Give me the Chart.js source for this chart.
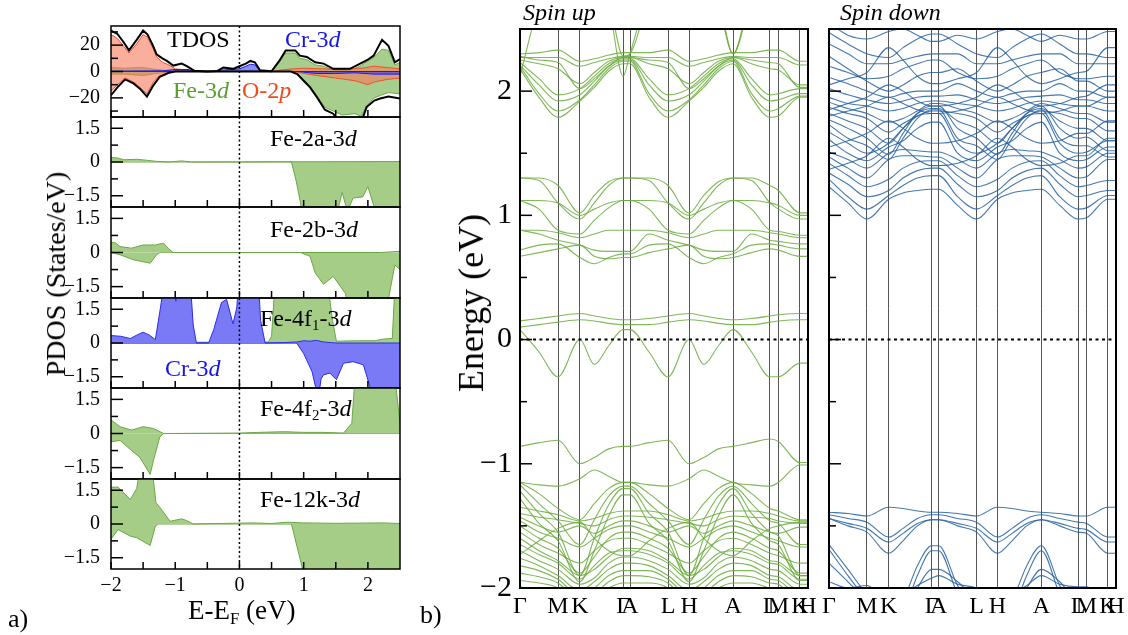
<!DOCTYPE html>
<html>
<head>
<meta charset="UTF-8">
<title>PDOS and band structure</title>
<script src="https://cdn.jsdelivr.net/npm/chart.js"></script>
<style>
  body { margin: 0; width: 1128px; height: 635px; overflow: hidden; background: #fff; font-family: 'Liberation Serif', serif; }
  canvas { position: absolute; }
  .t { position: absolute; white-space: nowrap; line-height: 1; color: #000; }
  .rot { transform: translate(-50%, -50%) rotate(-90deg); }
  sub { font-size: 0.62em; vertical-align: -0.3em; line-height: 0; }
  .g { color: #5aa02c; } .b { color: #1515e8; } .o { color: #f04a1a; }
</style>
</head>
<body>

<canvas id="p0" width="361" height="99" style="left:47px;top:22px"></canvas>
<canvas id="p1" width="361" height="98" style="left:47px;top:113px"></canvas>
<canvas id="p2" width="361" height="99" style="left:47px;top:203px"></canvas>
<canvas id="p3" width="361" height="98" style="left:47px;top:294px"></canvas>
<canvas id="p4" width="361" height="99" style="left:47px;top:384px"></canvas>
<canvas id="p5" width="361" height="122" style="left:47px;top:475px"></canvas>
<canvas id="bup" width="356" height="602" style="left:460px;top:20px"></canvas>
<canvas id="bdn" width="311" height="602" style="left:817px;top:20px"></canvas>

<div class="t" style="left:167px;top:27px;font-size:24px">TDOS</div>
<div class="t b" style="left:285px;top:27px;font-size:24px">Cr-3<i>d</i></div>
<div class="t g" style="left:173px;top:78px;font-size:24px">Fe-3<i>d</i></div>
<div class="t o" style="left:242px;top:78px;font-size:24px">O-2<i>p</i></div>
<div class="t" style="left:270px;top:126px;font-size:24px">Fe-2a-3<i>d</i></div>
<div class="t" style="left:270px;top:217px;font-size:24px">Fe-2b-3<i>d</i></div>
<div class="t" style="left:260px;top:306px;font-size:24px">Fe-4f<sub>1</sub>-3<i>d</i></div>
<div class="t b" style="left:165px;top:356px;font-size:24px">Cr-3<i>d</i></div>
<div class="t" style="left:260px;top:396px;font-size:24px">Fe-4f<sub>2</sub>-3<i>d</i></div>
<div class="t" style="left:260px;top:487px;font-size:24px">Fe-12k-3<i>d</i></div>
<div class="t rot" style="left:56px;top:274px;font-size:28px">PDOS (States/eV)</div>
<div class="t" style="left:188px;top:597px;font-size:27px">E-E<sub>F</sub> (eV)</div>
<div class="t" style="left:8px;top:606px;font-size:26px">a)</div>
<div class="t" style="left:420px;top:602px;font-size:26px">b)</div>
<div class="t rot" style="left:471px;top:303px;font-size:36px">Energy (eV)</div>
<div class="t" style="left:523px;top:0px;font-size:24px;font-style:italic">Spin up</div>
<div class="t" style="left:840px;top:0px;font-size:24px;font-style:italic">Spin down</div>

<script>
// ---------- PDOS data: [E - EF (eV), states/eV] ----------
const tdosUp = [[-2.0,31],[-1.9,28.5],[-1.8,22],[-1.72,16],[-1.6,24],[-1.5,31],[-1.43,28],[-1.35,20],[-1.29,13],[-1.2,10],[-1.13,8],[-1.03,4.5],[-0.9,6],[-0.82,4],[-0.7,0.5],[-0.5,0],[-0.35,0.3],[-0.25,3],[-0.1,2],[0.0,4],[0.1,6],[0.17,8],[0.24,7],[0.32,1],[0.5,0.2],[0.62,8],[0.72,16],[0.87,16],[0.94,12],[1.05,11],[1.18,7],[1.31,6],[1.46,2],[1.72,2],[1.88,6],[2.0,9],[2.09,12],[2.22,24],[2.32,19.5],[2.42,7],[2.5,9.5]];
const tdosDn = [[-2.0,-18],[-1.9,-12],[-1.78,-6],[-1.65,-9],[-1.55,-13],[-1.44,-19],[-1.34,-10.5],[-1.24,-4],[-1.1,-1],[-1.0,0],[0.8,0],[0.9,-2],[1.0,-7],[1.1,-12],[1.2,-19],[1.33,-29],[1.46,-32],[1.55,-38],[1.9,-38],[1.98,-27],[2.1,-22],[2.19,-20.5],[2.32,-19],[2.5,-20.5]];
const o2pUp = [[-2.0,28],[-1.9,25],[-1.8,19],[-1.72,14],[-1.6,21],[-1.5,28],[-1.43,26],[-1.35,18],[-1.29,11],[-1.2,7],[-1.1,5],[-1.0,2],[-0.9,1.5],[-0.7,0.5],[-0.5,0],[0.5,0],[0.7,1.5],[1.0,2.5],[1.3,2],[1.6,1.5],[1.9,2.5],[2.1,4],[2.3,3],[2.5,2]];
const o2pDn = [[-2.0,-15],[-1.9,-10],[-1.78,-5],[-1.65,-8],[-1.55,-12],[-1.44,-17],[-1.34,-8],[-1.24,-3],[-1.1,-1],[-1.0,0],[0.85,0],[1.0,-1.5],[1.2,-3],[1.5,-5],[1.8,-7],[2.0,-10],[2.1,-8],[2.3,-6],[2.5,-5]];
const fe3dUp = [[-2.0,3],[-1.8,2.5],[-1.5,3],[-1.3,1.5],[-1.1,0.5],[-0.8,0.3],[-0.5,0],[0.0,0.5],[0.2,0.5],[0.35,0],[0.5,0],[0.62,7],[0.72,14],[0.87,14],[0.94,10],[1.05,9],[1.18,5],[1.31,4],[1.46,1],[1.72,1],[1.88,4],[2.0,8],[2.1,11],[2.22,17],[2.32,16],[2.42,5],[2.5,7]];
const fe3dDn = [[-2.0,-2],[-1.8,-2],[-1.5,-3],[-1.3,-1.5],[-1.1,-0.3],[-1.0,0],[0.85,0],[1.0,-6],[1.1,-11],[1.2,-18],[1.33,-27],[1.46,-30],[1.6,-33],[1.8,-32],[1.9,-34],[1.98,-26],[2.1,-20],[2.2,-18],[2.32,-16],[2.5,-17]];
const cr3dUp = [[-2.0,0.3],[-1.2,0.5],[-1.0,1.5],[-0.8,1.5],[-0.7,0.3],[-0.4,0],[-0.3,1],[-0.15,1.5],[0.0,2],[0.1,4],[0.17,5.5],[0.24,5],[0.32,0.5],[0.4,0],[2.5,0]];
const cr3dDn = [[-2.0,0],[0.9,0],[1.0,-0.5],[1.2,-1.5],[1.5,-1.5],[1.8,-1],[2.1,-2],[2.5,-2]];

const fe2aUp = [[-2.0,0.2],[-1.9,0.18],[-1.8,0.1],[-1.6,0.12],[-1.45,0.08],[-1.3,0.03],[-1.1,0],[-0.9,0.05],[-0.75,0],[2.5,0.02]];
const fe2aDn = [[-2.0,0],[0.81,0],[0.88,-0.8],[0.95,-1.8],[0.98,-2.5],[1.5,-2.5],[1.6,-1.35],[1.68,-2.2],[1.77,-1.6],[1.92,-1.55],[2.0,-1.1],[2.12,-2.2],[2.16,-2.5],[2.5,-2.5]];
const fe2bUp = [[-2.0,0.45],[-1.93,0.42],[-1.86,0.26],[-1.68,0.19],[-1.5,0.33],[-1.31,0.33],[-1.18,0.41],[-1.1,0.15],[-1.03,0],[2.2,0],[2.5,0.05]];
const fe2bDn = [[-2.0,0],[-1.86,-0.1],[-1.65,-0.32],[-1.39,-0.47],[-1.29,-0.1],[-1.24,0],[0.95,0],[1.1,-0.17],[1.18,-0.9],[1.31,-1.4],[1.46,-1.05],[1.65,-1.8],[1.7,-2.5],[2.29,-2.5],[2.42,-0.55],[2.5,-0.75]];
const fe4f1Up = [[-2.0,0.1],[-1.5,0.1],[-1.2,0.08],[-0.8,0.03],[0.0,0.05],[0.3,0.03],[0.45,0.05],[0.5,0.3],[0.55,2.5],[1.38,2.5],[1.45,1.0],[1.51,0.08],[1.8,0.1],[2.1,0.1],[2.25,0.18],[2.38,0.2],[2.42,2.5],[2.5,2.5]];
const fe4f1Dn = [[-2.0,0],[0.9,0],[1.0,-0.3],[1.5,-0.5],[2.5,-0.5]];
const cr4f1Up = [[-2.0,0.33],[-1.85,0.3],[-1.7,0.2],[-1.6,0.35],[-1.5,0.48],[-1.4,0.35],[-1.31,0.15],[-1.25,1.2],[-1.18,2.5],[-1.05,2.5],[-0.99,1.86],[-0.95,2.5],[-0.76,2.5],[-0.72,0.8],[-0.67,0],[-0.48,0],[-0.4,0.6],[-0.28,1.8],[-0.2,1.94],[-0.1,0.85],[-0.04,1.6],[-0.02,2.5],[0.3,2.5],[0.33,1.0],[0.4,0],[0.7,0.02],[0.9,0.05],[1.0,0.1],[1.1,0.08],[1.2,0.12],[1.3,0.05],[1.5,0],[2.5,0]];
const cr4f1Dn = [[-2.0,0],[0.89,0],[1.0,-0.47],[1.13,-1.27],[1.23,-2.5],[1.27,-1.6],[1.31,-1.41],[1.41,-1.34],[1.51,-1.63],[1.62,-0.9],[1.77,-0.83],[1.93,-0.97],[2.09,-2.5],[2.5,-2.5]];
const fe4f2Up = [[-2.0,0.6],[-1.86,0.3],[-1.68,0.15],[-1.5,0.3],[-1.34,0.22],[-1.18,0],[0.0,0.02],[0.3,0.05],[0.7,0.08],[1.0,0.05],[1.3,0.05],[1.62,0.02],[1.75,0.45],[1.8,2.5],[2.42,2.5],[2.5,0.45]];
const fe4f2Dn = [[-2.0,-0.37],[-1.86,-0.3],[-1.68,-0.75],[-1.55,-1.05],[-1.39,-1.8],[-1.34,-1.2],[-1.24,-0.15],[-1.18,0],[2.5,0]];
const fe12kUp = [[-2.0,1.64],[-1.89,1.64],[-1.7,1.09],[-1.6,1.57],[-1.55,2.5],[-1.4,2.5],[-1.35,2.2],[-1.3,0.95],[-1.21,0.63],[-1.08,0.12],[-0.9,0.23],[-0.82,0.15],[-0.72,0],[0.22,0.05],[0.5,0.02],[0.74,0.08],[1.0,0.05],[1.5,0.03],[2.24,0.05],[2.5,0.02]];
const fe12kDn = [[-2.0,-0.68],[-1.89,-0.25],[-1.7,-0.54],[-1.6,-0.61],[-1.39,-0.95],[-1.31,-0.1],[-1.27,0],[0.81,0],[0.97,-1.85],[1.0,-2.5],[2.5,-2.5]];

// ---------- tick labels ----------
const eTicks = [-2, -1, 0, 1, 2];
const eMinor = [-1.5, -0.5, 0.5, 1.5];
const tdosTicks = [-20, 0, 20];
const tdosMinor = [-30, -10, 10, 30];
const pdosTicks = [-1.5, 0, 1.5];
const pdosMinor = [-0.75, 0.75];
const bandYTicks = [-2, -1, 0, 1, 2];
const bandYMinor = [-1.5, -0.5, 0.5, 1.5, 2.5];

// ---------- band structure: k positions along G-M-K-G-A-L-H-A-L-M-K-H ----------
const kPts = [0, 0.066, 0.132, 0.208, 0.258, 0.308, 0.358, 0.382, 0.448, 0.514, 0.587, 0.638, 0.689, 0.740, 0.804, 0.868, 0.897, 0.972, 1.0];
const kTicks = [0, 0.132, 0.208, 0.358, 0.382, 0.514, 0.587, 0.740, 0.868, 0.897, 0.972, 1.0];
const kLabels = ['Γ', 'M', 'K', 'Γ', 'A', 'L', 'H', 'A', 'L', 'M', 'K', 'H'];

// spin up (eV at each kPts entry)
const upTop = [
  [2.30,2.31,2.33,2.24,2.26,2.29,2.31,2.31,2.31,2.33,2.24,2.26,2.29,2.31,2.31,2.33,2.33,2.24,2.24],
  [2.27,2.27,2.27,2.20,2.23,2.26,2.28,2.28,2.27,2.27,2.20,2.23,2.26,2.28,2.27,2.27,2.27,2.21,2.21],
  [2.25,2.22,2.18,2.06,2.15,2.24,2.27,2.27,2.22,2.18,2.06,2.15,2.24,2.27,2.22,2.18,2.17,2.05,2.05],
  [2.23,2.10,1.97,2.02,2.12,2.22,2.26,2.26,2.10,1.97,2.02,2.12,2.22,2.26,2.10,1.97,1.98,2.02,2.02],
  [2.21,2.05,1.92,1.97,2.08,2.20,2.25,2.25,2.05,1.92,1.97,2.08,2.20,2.25,2.05,1.92,1.93,1.98,1.98],
  [2.20,1.98,1.84,1.93,2.05,2.18,2.24,2.24,1.98,1.84,1.93,2.05,2.18,2.24,1.98,1.84,1.86,1.96,1.96],
  [2.18,1.95,1.79,1.92,2.03,2.16,2.22,2.22,1.95,1.79,1.92,2.03,2.16,2.22,1.95,1.79,1.80,1.95,1.95],
  [2.28,2.25,2.23,2.02,2.10,2.20,2.27,2.27,2.25,2.23,2.02,2.10,2.20,2.27,2.25,2.23,2.22,2.03,2.03],
  [2.12,2.70,3.00,3.00,3.00,2.70,2.12,2.30,2.80,3.00,3.00,3.00,2.75,2.30,2.80,3.00,3.00,3.00,3.00],
  [2.50,3.00,3.00,3.00,3.00,2.75,2.28,2.30,2.75,3.00,3.00,3.00,2.70,2.30,2.75,3.00,3.00,3.00,3.00]
];
const upMid = [
  [1.30,1.30,1.24,1.02,1.16,1.27,1.30,1.30,1.30,1.24,1.02,1.16,1.27,1.30,1.30,1.24,1.20,1.02,1.02],
  [1.30,1.28,1.10,0.97,1.10,1.24,1.30,1.30,1.28,1.10,0.97,1.10,1.24,1.30,1.28,1.10,1.05,0.97,0.97],
  [1.12,1.12,1.10,1.00,1.05,1.10,1.12,1.12,1.12,1.10,1.00,1.05,1.10,1.12,1.12,1.10,1.08,1.00,1.00],
  [1.12,1.05,0.88,0.85,0.96,1.06,1.12,1.12,1.05,0.88,0.85,0.96,1.06,1.12,1.05,0.88,0.87,0.84,0.84],
  [0.88,0.88,0.86,0.82,0.85,0.88,0.88,0.88,0.88,0.86,0.82,0.85,0.88,0.88,0.88,0.86,0.85,0.82,0.82],
  [0.88,0.85,0.80,0.76,0.72,0.71,0.71,0.71,0.85,0.80,0.76,0.72,0.71,0.71,0.85,0.80,0.79,0.77,0.77],
  [0.72,0.76,0.77,0.66,0.61,0.66,0.69,0.69,0.76,0.77,0.66,0.61,0.66,0.69,0.76,0.77,0.76,0.73,0.73],
  [0.67,0.70,0.73,0.76,0.67,0.65,0.66,0.66,0.70,0.73,0.76,0.67,0.65,0.66,0.70,0.73,0.72,0.67,0.67]
];
const upFermi = [
  [0.15,0.17,0.19,0.21,0.19,0.17,0.16,0.16,0.17,0.19,0.21,0.19,0.17,0.16,0.17,0.19,0.20,0.21,0.21],
  [0.10,0.12,0.14,0.16,0.15,0.13,0.12,0.12,0.12,0.14,0.16,0.15,0.13,0.12,0.12,0.14,0.15,0.16,0.16],
  [0.08,-0.10,-0.30,0.00,-0.20,-0.05,0.08,0.08,-0.10,-0.30,0.00,-0.20,-0.05,0.08,-0.10,-0.30,-0.30,-0.19,-0.19]
];
const upLow = [
  [-0.86,-0.83,-0.81,-1.00,-0.95,-0.88,-0.86,-0.86,-0.83,-0.81,-1.00,-0.95,-0.88,-0.86,-0.83,-0.80,-0.82,-0.99,-0.99],
  [-1.15,-1.17,-1.18,-1.12,-1.05,-1.10,-1.15,-1.15,-1.17,-1.18,-1.12,-1.05,-1.10,-1.15,-1.17,-1.18,-1.15,-1.01,-1.01]
];
const upDense = [
  [-1.15,-1.24,-1.36,-1.45,-1.32,-1.20,-1.15,-1.15,-1.24,-1.36,-1.45,-1.32,-1.20,-1.15,-1.24,-1.36,-1.38,-1.45,-1.45],
  [-1.17,-1.32,-1.46,-1.65,-1.45,-1.26,-1.18,-1.18,-1.32,-1.46,-1.65,-1.45,-1.26,-1.18,-1.32,-1.46,-1.48,-1.65,-1.65],
  [-1.22,-1.40,-1.55,-1.90,-1.60,-1.33,-1.20,-1.20,-1.40,-1.55,-1.90,-1.60,-1.33,-1.20,-1.40,-1.55,-1.58,-1.90,-1.90],
  [-1.28,-1.48,-1.62,-1.95,-1.70,-1.42,-1.25,-1.25,-1.48,-1.62,-1.95,-1.70,-1.42,-1.25,-1.48,-1.62,-1.65,-1.94,-1.94],
  [-1.35,-1.38,-1.41,-1.46,-1.44,-1.40,-1.38,-1.38,-1.38,-1.41,-1.46,-1.44,-1.40,-1.38,-1.38,-1.40,-1.42,-1.46,-1.46],
  [-1.40,-1.43,-1.45,-1.48,-1.50,-1.45,-1.42,-1.42,-1.43,-1.45,-1.48,-1.50,-1.45,-1.42,-1.43,-1.44,-1.46,-1.48,-1.48],
  [-1.43,-1.50,-1.55,-1.50,-1.56,-1.50,-1.46,-1.46,-1.50,-1.55,-1.50,-1.56,-1.50,-1.46,-1.50,-1.55,-1.56,-1.51,-1.51],
  [-1.46,-1.55,-1.60,-1.67,-1.60,-1.53,-1.50,-1.50,-1.55,-1.60,-1.67,-1.60,-1.53,-1.50,-1.55,-1.60,-1.62,-1.67,-1.67],
  [-1.50,-1.60,-1.68,-1.88,-1.75,-1.60,-1.55,-1.55,-1.60,-1.68,-1.88,-1.75,-1.60,-1.55,-1.60,-1.68,-1.70,-1.88,-1.88],
  [-1.55,-1.65,-1.72,-1.80,-1.70,-1.62,-1.60,-1.60,-1.65,-1.72,-1.80,-1.70,-1.62,-1.60,-1.65,-1.72,-1.74,-1.80,-1.80],
  [-1.60,-1.70,-1.78,-1.90,-1.85,-1.75,-1.68,-1.68,-1.70,-1.78,-1.90,-1.85,-1.75,-1.68,-1.70,-1.78,-1.79,-1.90,-1.90],
  [-1.65,-1.73,-1.80,-1.93,-1.82,-1.72,-1.70,-1.70,-1.73,-1.80,-1.93,-1.82,-1.72,-1.70,-1.73,-1.80,-1.81,-1.93,-1.93],
  [-1.70,-1.78,-1.85,-1.97,-1.92,-1.80,-1.75,-1.75,-1.78,-1.85,-1.97,-1.92,-1.80,-1.75,-1.78,-1.85,-1.86,-1.97,-1.97],
  [-1.76,-1.82,-1.90,-2.02,-1.95,-1.85,-1.80,-1.80,-1.82,-1.90,-2.02,-1.95,-1.85,-1.80,-1.82,-1.90,-1.91,-2.02,-2.02],
  [-1.82,-1.86,-1.93,-2.06,-2.00,-1.90,-1.86,-1.86,-1.86,-1.93,-2.06,-2.00,-1.90,-1.86,-1.86,-1.93,-1.94,-2.06,-2.06],
  [-1.88,-1.91,-1.96,-2.10,-2.05,-1.95,-1.90,-1.90,-1.91,-1.96,-2.10,-2.05,-1.95,-1.90,-1.91,-1.96,-1.97,-2.10,-2.10],
  [-1.94,-1.96,-2.00,-2.15,-2.08,-2.00,-1.96,-1.96,-1.96,-2.00,-2.15,-2.08,-2.00,-1.96,-1.96,-2.00,-2.01,-2.15,-2.15],
  [-1.99,-2.02,-2.05,-2.20,-2.12,-2.05,-2.00,-2.00,-2.02,-2.05,-2.20,-2.12,-2.05,-2.00,-2.02,-2.05,-2.06,-2.20,-2.20],
  [-1.73,-1.62,-1.52,-1.47,-1.60,-1.70,-1.74,-1.74,-1.62,-1.52,-1.47,-1.60,-1.70,-1.74,-1.62,-1.52,-1.50,-1.47,-1.47]
];

// spin down
const dnHigh = [
  [1.23,1.10,0.97,1.13,1.18,1.20,1.21,1.21,1.08,0.97,1.13,1.18,1.20,1.21,1.08,0.97,0.98,1.13,1.13],
  [1.29,1.15,1.05,1.16,1.24,1.30,1.32,1.32,1.15,1.05,1.16,1.24,1.30,1.32,1.15,1.05,1.06,1.16,1.16],
  [1.34,1.25,1.15,1.20,1.30,1.36,1.38,1.38,1.25,1.15,1.20,1.30,1.36,1.38,1.25,1.15,1.16,1.20,1.20],
  [1.42,1.32,1.23,1.29,1.38,1.43,1.44,1.44,1.32,1.23,1.29,1.38,1.43,1.44,1.32,1.23,1.24,1.28,1.28],
  [1.47,1.38,1.30,1.45,1.48,1.48,1.47,1.47,1.38,1.30,1.45,1.48,1.48,1.47,1.38,1.30,1.31,1.45,1.45],
  [1.51,1.45,1.38,1.50,1.53,1.52,1.51,1.51,1.45,1.38,1.50,1.53,1.52,1.51,1.45,1.38,1.39,1.50,1.50],
  [1.61,1.50,1.44,1.55,1.60,1.70,1.75,1.75,1.50,1.44,1.55,1.60,1.70,1.75,1.50,1.44,1.45,1.55,1.55],
  [1.67,1.58,1.50,1.58,1.70,1.80,1.82,1.82,1.58,1.50,1.58,1.70,1.80,1.82,1.58,1.50,1.51,1.60,1.60],
  [1.73,1.62,1.56,1.45,1.62,1.78,1.85,1.85,1.62,1.56,1.45,1.62,1.78,1.85,1.62,1.56,1.56,1.47,1.47],
  [1.77,1.70,1.62,1.49,1.66,1.82,1.88,1.88,1.70,1.62,1.49,1.66,1.82,1.88,1.70,1.62,1.63,1.52,1.52],
  [1.82,1.76,1.70,1.58,1.70,1.82,1.86,1.86,1.76,1.70,1.58,1.70,1.82,1.86,1.76,1.70,1.70,1.60,1.60],
  [1.87,1.82,1.78,1.67,1.74,1.80,1.84,1.84,1.82,1.78,1.67,1.74,1.80,1.84,1.82,1.78,1.78,1.68,1.68],
  [1.91,1.86,1.82,1.75,1.78,1.84,1.90,1.90,1.86,1.82,1.75,1.78,1.84,1.90,1.86,1.82,1.82,1.75,1.75],
  [1.95,1.90,1.88,1.84,1.86,1.90,1.92,1.92,1.90,1.88,1.84,1.86,1.90,1.92,1.90,1.88,1.88,1.84,1.84],
  [2.02,1.97,1.93,1.90,1.92,1.95,1.96,1.96,1.97,1.93,1.90,1.92,1.95,1.96,1.97,1.93,1.93,1.90,1.90],
  [2.11,2.06,2.00,1.95,1.98,2.00,2.00,2.00,2.06,2.00,1.95,1.98,2.00,2.00,2.06,2.00,2.00,1.95,1.95],
  [2.28,2.18,2.08,2.00,2.05,2.12,2.15,2.15,2.18,2.08,2.00,2.05,2.12,2.15,2.18,2.08,2.08,2.00,2.00],
  [2.38,2.30,2.22,2.22,2.25,2.28,2.30,2.30,2.30,2.22,2.22,2.25,2.28,2.30,2.30,2.22,2.22,2.22,2.22],
  [2.47,2.38,2.30,2.27,2.35,2.42,2.46,2.46,2.38,2.30,2.27,2.35,2.42,2.46,2.38,2.30,2.30,2.27,2.27],
  [2.55,2.45,2.42,2.48,2.50,2.45,2.40,2.40,2.45,2.42,2.48,2.50,2.45,2.40,2.45,2.42,2.42,2.48,2.48],
  [1.85,1.90,1.95,2.05,2.00,1.92,1.88,1.88,1.90,1.95,2.05,2.00,1.92,1.88,1.90,1.95,1.96,2.05,2.05],
  [1.80,1.84,1.88,1.95,1.90,1.85,1.82,1.82,1.84,1.88,1.95,1.90,1.85,1.82,1.84,1.88,1.88,1.95,1.95],
  [2.20,2.15,2.10,2.12,2.18,2.22,2.25,2.25,2.15,2.10,2.12,2.18,2.22,2.25,2.15,2.10,2.10,2.12,2.12],
  [1.55,1.60,1.66,1.76,1.70,1.62,1.58,1.58,1.60,1.66,1.76,1.70,1.62,1.58,1.60,1.66,1.66,1.76,1.76],
  [1.37,1.42,1.48,1.62,1.55,1.45,1.40,1.40,1.42,1.48,1.62,1.55,1.45,1.40,1.42,1.48,1.48,1.62,1.62],
  [2.05,2.10,2.15,2.35,2.25,2.12,2.06,2.06,2.10,2.15,2.35,2.25,2.12,2.06,2.10,2.15,2.16,2.35,2.35]
];
const dnLow = [
  [-1.39,-1.40,-1.42,-1.35,-1.36,-1.38,-1.39,-1.39,-1.40,-1.42,-1.35,-1.36,-1.38,-1.39,-1.40,-1.42,-1.42,-1.35,-1.35],
  [-1.41,-1.44,-1.47,-1.59,-1.52,-1.44,-1.41,-1.41,-1.44,-1.47,-1.59,-1.52,-1.44,-1.41,-1.44,-1.47,-1.48,-1.59,-1.59],
  [-1.44,-1.48,-1.52,-1.63,-1.56,-1.48,-1.45,-1.45,-1.48,-1.52,-1.63,-1.56,-1.48,-1.45,-1.48,-1.52,-1.53,-1.63,-1.63],
  [-1.44,-1.50,-1.55,-1.72,-1.62,-1.50,-1.45,-1.45,-1.50,-1.55,-1.72,-1.62,-1.50,-1.45,-1.50,-1.55,-1.56,-1.72,-1.72],
  [-1.65,-1.85,-2.05,-2.20,-2.10,-1.82,-1.66,-1.66,-1.98,-2.20,-2.20,-2.10,-1.82,-1.66,-1.98,-2.20,-2.20,-2.20,-2.20],
  [-1.69,-1.90,-2.10,-2.30,-2.20,-1.90,-1.70,-1.70,-2.05,-2.30,-2.30,-2.20,-1.90,-1.70,-2.05,-2.30,-2.30,-2.30,-2.30],
  [-1.80,-1.95,-2.10,-2.30,-2.20,-2.00,-1.85,-1.85,-1.95,-2.10,-2.30,-2.20,-2.00,-1.85,-1.95,-2.10,-2.10,-2.30,-2.30],
  [-1.95,-2.00,-1.98,-2.10,-2.05,-1.98,-1.92,-1.90,-1.97,-2.00,-2.10,-2.05,-1.98,-1.90,-1.97,-1.99,-1.99,-2.10,-2.10]
];

// ---------- drawing ----------
const serif = "'Liberation Serif', 'Times New Roman', serif";
const fmt = v => (v < 0 ? '\u2212' : '') + Math.abs(v);

// frame, inward ticks and dotted zero lines
const framePlugin = {
  id: 'frame',
  afterDatasetsDraw(chart, args, o) {
    const {ctx, chartArea: a, scales: {x, y}} = chart;
    const seg = (x1, y1, x2, y2) => { ctx.beginPath(); ctx.moveTo(x1, y1); ctx.lineTo(x2, y2); ctx.stroke(); };
    ctx.save();
    ctx.strokeStyle = '#000';
    if (o.vzero) {
      ctx.setLineDash([2, 2.5]); ctx.lineWidth = 1.5;
      const px = x.getPixelForValue(0);
      seg(px, a.top, px, a.bottom);
    }
    if (o.hzero) {
      ctx.setLineDash([3, 3.5]); ctx.lineWidth = 2;
      const py = y.getPixelForValue(0);
      seg(a.left, py, a.right, py);
    }
    ctx.setLineDash([]);
    ctx.lineWidth = 1.5;
    (o.yMajor || []).forEach(v => { const p = y.getPixelForValue(v); seg(a.left, p, a.left + 12, p); });
    (o.yMinor || []).forEach(v => { const p = y.getPixelForValue(v); seg(a.left, p, a.left + 7, p); });
    (o.xMajor || []).concat(o.xMinor || []).forEach(v => { const p = x.getPixelForValue(v); seg(p, a.bottom, p, a.bottom - 7); });
    ctx.lineWidth = o.lw || 1.5;
    ctx.strokeRect(a.left, a.top, a.right - a.left, a.bottom - a.top);
    ctx.restore();
  }
};
Chart.register(framePlugin);

const pts = arr => arr.map(p => ({x: p[0], y: p[1]}));

function area(data, fillColor, lineColor) {
  return {data: pts(data), backgroundColor: fillColor, borderColor: lineColor, borderWidth: 1,
          fill: 'origin', pointRadius: 0, tension: 0};
}

// fixed axis sizes, no automatic label padding, so plot areas line up
const fixX = h => s => { s.height = h; s.paddingLeft = 0; s.paddingRight = 0; };
const fixY = w => s => { s.width = w; s.paddingTop = 0; s.paddingBottom = 0; };

function pdosChart(id, datasets, yMin, yMax, yTicks, yMinor, bottom) {
  return new Chart(document.getElementById(id), {
    type: 'line',
    data: {datasets},
    options: {
      responsive: false, animation: false, events: [],
      layout: {padding: {top: 4, right: 8, left: 0, bottom: bottom ? 0 : 4}},
      scales: {
        x: {
          type: 'linear', min: -2, max: 2.5, display: bottom,
          afterBuildTicks: s => { s.ticks = eTicks.map(v => ({value: v})); },
          afterFit: fixX(bottom ? 28 : 0),
          grid: {display: false, drawTicks: false}, border: {display: false},
          ticks: {padding: 5, color: '#000', font: {family: serif, size: 20}, maxRotation: 0, autoSkip: false, callback: fmt}
        },
        y: {
          min: yMin, max: yMax,
          afterBuildTicks: s => { s.ticks = yTicks.map(v => ({value: v})); },
          afterFit: fixY(64),
          grid: {display: false, drawTicks: false}, border: {display: false},
          ticks: {padding: 11, color: '#000', font: {family: serif, size: 20}, callback: fmt}
        }
      },
      plugins: {
        legend: {display: false}, tooltip: {enabled: false},
        frame: {vzero: true, yMajor: yTicks, yMinor: yMinor, xMajor: eTicks, xMinor: eMinor, lw: 1.5}
      }
    }
  });
}

const green = '#a5cd88', greenLine = '#6aa843';
const blue = '#7a7af7', blueLine = '#2b2bf0';

pdosChart('p0', [
  {data: pts(tdosUp), borderColor: '#000', borderWidth: 2, fill: false, pointRadius: 0, tension: 0},
  {data: pts(tdosDn), borderColor: '#000', borderWidth: 2, fill: false, pointRadius: 0, tension: 0},
  area(cr3dUp, 'rgba(60,60,250,0.6)', '#1a1af0'),
  area(cr3dDn, 'rgba(60,60,250,0.6)', '#1a1af0'),
  area(o2pUp, 'rgba(246,120,90,0.6)', '#f0502a'),
  area(o2pDn, 'rgba(246,120,90,0.6)', '#f0502a'),
  area(fe3dUp, 'rgba(120,180,80,0.65)', greenLine),
  area(fe3dDn, 'rgba(120,180,80,0.65)', greenLine)
], -34.5, 34.5, tdosTicks, tdosMinor, false);

pdosChart('p1', [area(fe2aUp, green, greenLine), area(fe2aDn, green, greenLine)], -2, 2, pdosTicks, pdosMinor, false);
pdosChart('p2', [area(fe2bUp, green, greenLine), area(fe2bDn, green, greenLine)], -2, 2, pdosTicks, pdosMinor, false);
pdosChart('p3', [
  area(cr4f1Up, blue, blueLine), area(cr4f1Dn, blue, blueLine),
  area(fe4f1Up, green, greenLine), area(fe4f1Dn, green, greenLine)
], -2, 2, pdosTicks, pdosMinor, false);
pdosChart('p4', [area(fe4f2Up, green, greenLine), area(fe4f2Dn, green, greenLine)], -2, 2, pdosTicks, pdosMinor, false);
pdosChart('p5', [area(fe12kUp, green, greenLine), area(fe12kDn, green, greenLine)], -2, 2, pdosTicks, pdosMinor, true);

function bandChart(id, bands, color, showLabels) {
  const datasets = bands.map(b => ({
    data: b.map((e, i) => ({x: kPts[i], y: e})),
    borderColor: color, borderWidth: 1.1, pointRadius: 0,
    cubicInterpolationMode: 'monotone', fill: false
  }));
  return new Chart(document.getElementById(id), {
    type: 'line',
    data: {datasets},
    options: {
      responsive: false, animation: false, events: [],
      layout: {padding: {top: 9, right: showLabels ? 8 : 12, left: 0, bottom: 0}},
      scales: {
        x: {
          type: 'linear', min: 0, max: 1,
          afterBuildTicks: s => { s.ticks = kTicks.map(v => ({value: v})); },
          afterFit: fixX(34),
          grid: {color: 'rgba(55,55,55,0.85)', lineWidth: 1, drawTicks: false}, border: {display: false},
          ticks: {autoSkip: false, maxRotation: 0, minRotation: 0, padding: 4, color: '#000',
                  font: {family: serif, size: 24}, callback: (v, i) => kLabels[i]}
        },
        y: {
          min: -2, max: 2.5,
          afterBuildTicks: s => { s.ticks = bandYTicks.map(v => ({value: v})); },
          afterFit: fixY(showLabels ? 60 : 12),
          grid: {display: false, drawTicks: false}, border: {display: false},
          ticks: {display: showLabels, padding: 8, color: '#000', font: {family: serif, size: 30}, callback: fmt}
        }
      },
      plugins: {
        legend: {display: false}, tooltip: {enabled: false},
        frame: {hzero: true, yMajor: bandYTicks, yMinor: bandYMinor, lw: 2}
      }
    }
  });
}

bandChart('bup', upTop.concat(upMid, upFermi, upLow, upDense), 'rgba(106,171,60,0.85)', true);
bandChart('bdn', dnHigh.concat(dnLow), 'rgba(36,96,160,0.85)', false);
</script>
</body>
</html>
